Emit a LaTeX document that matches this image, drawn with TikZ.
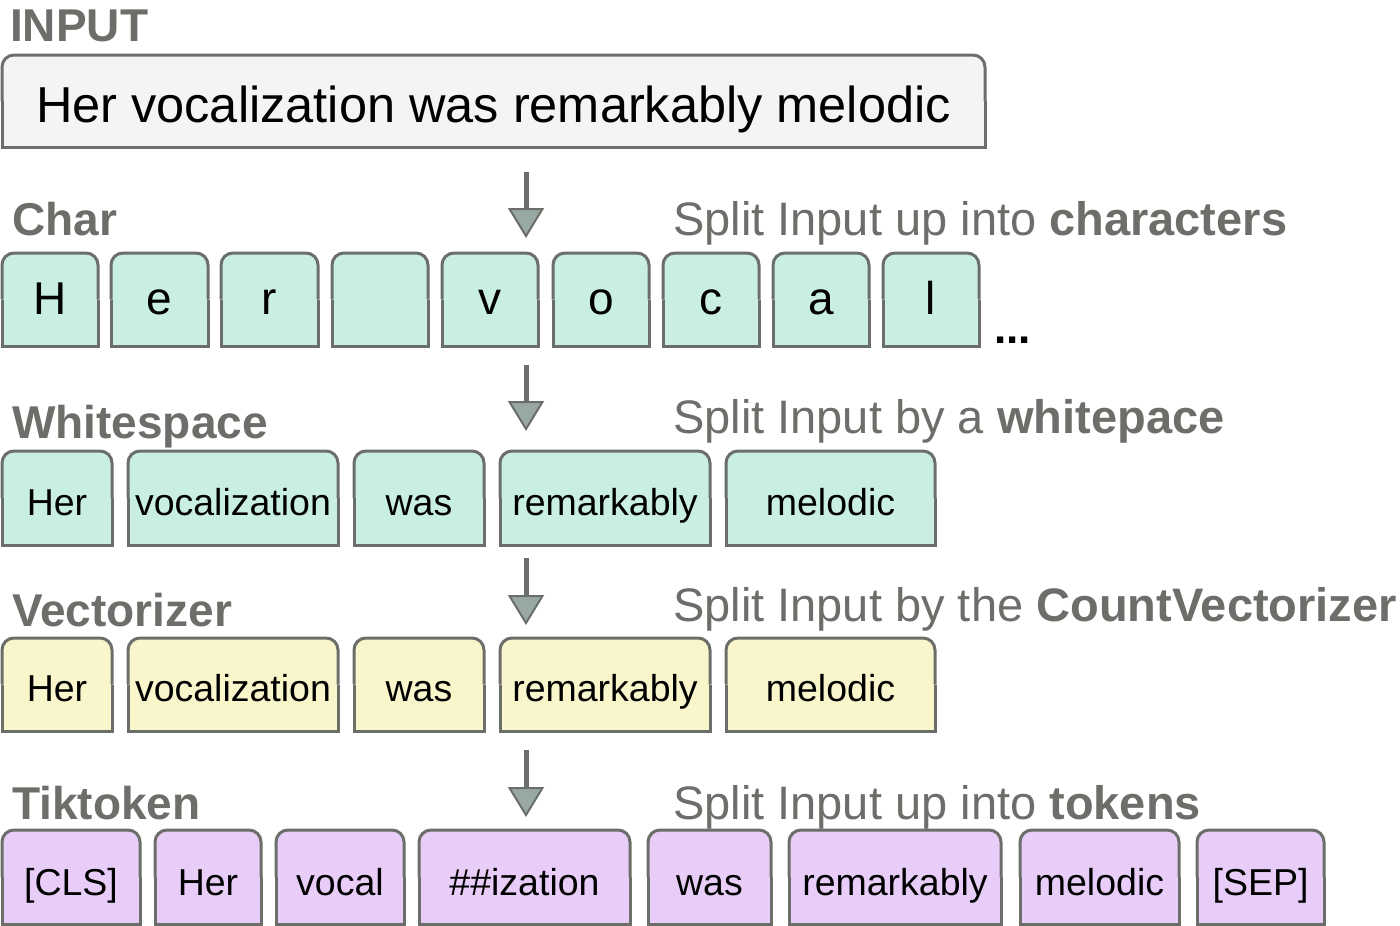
\documentclass[tikz,border=0pt]{standalone}
\usepackage{fontspec}
\setmainfont{Liberation Sans}
\usetikzlibrary{arrows.meta}
\definecolor{lab}{HTML}{6B6E69}
\definecolor{inpfill}{HTML}{F4F4F4}
\definecolor{charfill}{HTML}{C9EFE3}
\definecolor{vecfill}{HTML}{F9F6CC}
\definecolor{tikfill}{HTML}{E7CDF8}
\definecolor{arrfill}{HTML}{98A8A2}
\tikzset{
  boxline/.style={draw=lab,line width=3pt},
  tokfont/.style={font=\fontsize{37.5}{44}\selectfont,text=black},
  charfont/.style={font=\fontsize{46}{52}\selectfont,text=black},
  inpfont/.style={font=\fontsize{50.5}{58}\selectfont,text=black},
  rowlabel/.style={anchor=base west,font=\fontsize{46}{52}\selectfont\bfseries,text=lab,inner sep=0pt},
  rowdesc/.style={anchor=base west,font=\fontsize{47}{54}\selectfont,text=lab,inner sep=0pt},
  flow/.style={draw=lab,line width=5pt,-{Triangle[width=36pt,length=30pt,fill=arrfill,line width=2pt]}},
}
\newcommand\tokbox[9]{%
  \fill[#6,rounded corners=12pt] (#2,#3) rectangle (#4,#5);
  \fill[#6] (#2,{(#3+#5)/2}) rectangle (#4,#5);
  \draw[boxline,rounded corners=12pt] (#2,{(#3+#5)/2}) -- (#2,#3) -- (#4,#3) -- (#4,{(#3+#5)/2});
  \draw[boxline] (#2,{(#3+#5)/2}) -- (#2,#5) -- (#4,#5) -- (#4,{(#3+#5)/2});
  \node[anchor=base,inner sep=0pt,#7] (#1) at ({(#2+#4)/2},{(#3+#5)/2+#8}) {#9};
}
\begin{document}
\begin{tikzpicture}[x=1pt,y=-1pt]
\useasboundingbox (0,0) rectangle (1400,926);
% INPUT
\node[rowlabel] (inlab) at (10,41) {INPUT};
\tokbox{inp}{2}{55}{985}{147}{inpfill}{inpfont}{21}{Her vocalization was remarkably melodic}
% Char row
\node[rowlabel] (charlab) at (12,235) {Char};
\node[rowdesc] (chardesc) at (673,235) {Split Input up into \textbf{characters}};
\tokbox{c1}{2}{253}{98}{346}{charfill}{charfont}{15}{H}
\tokbox{c2}{111}{253}{208}{346}{charfill}{charfont}{15}{e}
\tokbox{c3}{221}{253}{318}{346}{charfill}{charfont}{15}{r}
\tokbox{c4}{332}{253}{428}{346}{charfill}{charfont}{15}{}
\tokbox{c5}{442}{253}{538}{346}{charfill}{charfont}{15}{v}
\tokbox{c6}{553}{253}{649}{346}{charfill}{charfont}{15}{o}
\tokbox{c7}{663}{253}{759}{346}{charfill}{charfont}{15}{c}
\tokbox{c8}{773}{253}{869}{346}{charfill}{charfont}{15}{a}
\tokbox{c9}{883}{253}{979}{346}{charfill}{charfont}{15}{l}
\node[anchor=base west,inner sep=0pt,font=\fontsize{44}{50}\selectfont\bfseries] (dots) at (994,343) {...};
% Whitespace row
\node[rowlabel] (wslab) at (12,438) {Whitespace};
\node[rowdesc] (wsdesc) at (673,433) {Split Input by a \textbf{whitepace}};
\tokbox{w1}{2}{451}{112}{545}{charfill}{tokfont}{17}{Her}
\tokbox{w2}{128}{451}{338}{545}{charfill}{tokfont}{17}{vocalization}
\tokbox{w3}{354}{451}{484}{545}{charfill}{tokfont}{17}{was}
\tokbox{w4}{500}{451}{710}{545}{charfill}{tokfont}{17}{remarkably}
\tokbox{w5}{726}{451}{935}{545}{charfill}{tokfont}{17}{melodic}
% Vectorizer row
\node[rowlabel] (veclab) at (12,626) {Vectorizer};
\node[rowdesc] (vecdesc) at (673,621) {Split Input by the \textbf{CountVectorizer}};
\tokbox{v1}{2}{638}{112}{731}{vecfill}{tokfont}{17}{Her}
\tokbox{v2}{128}{638}{338}{731}{vecfill}{tokfont}{17}{vocalization}
\tokbox{v3}{354}{638}{484}{731}{vecfill}{tokfont}{17}{was}
\tokbox{v4}{500}{638}{710}{731}{vecfill}{tokfont}{17}{remarkably}
\tokbox{v5}{726}{638}{935}{731}{vecfill}{tokfont}{17}{melodic}
% Tiktoken row
\node[rowlabel] (tiklab) at (12,819) {Tiktoken};
\node[rowdesc] (tikdesc) at (673,819) {Split Input up into \textbf{tokens}};
\tokbox{t1}{2}{830}{140}{924}{tikfill}{tokfont}{18}{[CLS]}
\tokbox{t2}{155}{830}{261}{924}{tikfill}{tokfont}{18}{Her}
\tokbox{t3}{276}{830}{404}{924}{tikfill}{tokfont}{18}{vocal}
\tokbox{t4}{419}{830}{630}{924}{tikfill}{tokfont}{18}{\#\#ization}
\tokbox{t5}{648}{830}{771}{924}{tikfill}{tokfont}{18}{was}
\tokbox{t6}{789}{830}{1001}{924}{tikfill}{tokfont}{18}{remarkably}
\tokbox{t7}{1020}{830}{1179}{924}{tikfill}{tokfont}{18}{melodic}
\tokbox{t8}{1197}{830}{1324}{924}{tikfill}{tokfont}{18}{[SEP]}
% arrows
\coordinate (a1s) at (526,172); \coordinate (a1e) at (526,238);
\coordinate (a2s) at (526,365); \coordinate (a2e) at (526,431);
\coordinate (a3s) at (526,558); \coordinate (a3e) at (526,625);
\coordinate (a4s) at (526,750); \coordinate (a4e) at (526,817);
\draw[flow] (a1s) -- (a1e);
\draw[flow] (a2s) -- (a2e);
\draw[flow] (a3s) -- (a3e);
\draw[flow] (a4s) -- (a4e);
\end{tikzpicture}
\end{document}
